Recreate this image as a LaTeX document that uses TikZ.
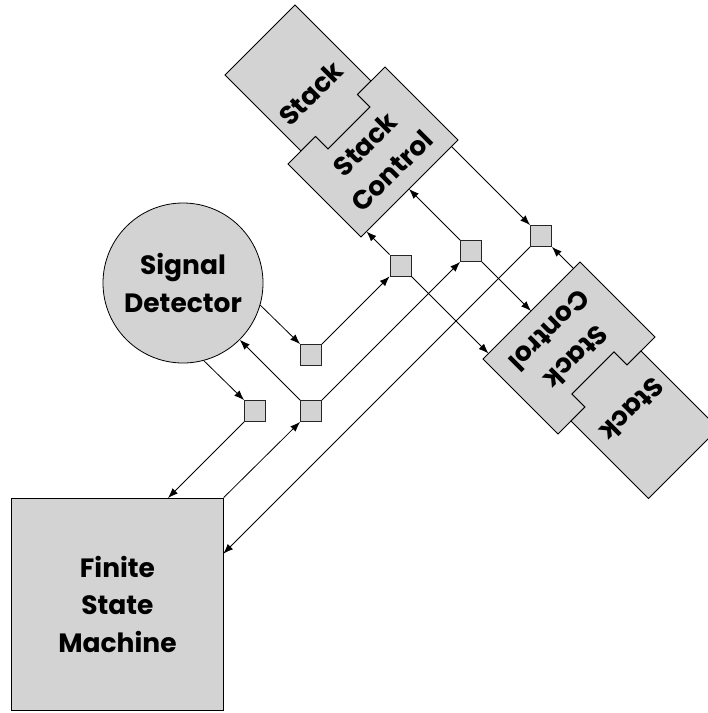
\documentclass[tikz,border=0pt]{standalone}
\usepackage{fontspec}
\setmainfont{Poppins}
\usetikzlibrary{arrows.meta}
\definecolor{boxgray}{RGB}{211,211,211}
\begin{document}
\begin{tikzpicture}[x=1pt,y=-1pt,
  line width=0.8pt,
  conn/.style={-{Latex[length=10pt,width=7.5pt]}},
  shapebox/.style={draw=black,fill=boxgray,line join=miter},
  junction/.style={draw=black!85,fill=boxgray,minimum size=21pt,inner sep=0pt},
  lbl/.style={font=\fontsize{26.5}{37.5}\selectfont\bfseries,align=center,inner sep=0pt},
]
\useasboundingbox (0,0) rectangle (708,713);
\clip (0,0) rectangle (708,713);

% ---- rotated stack blocks (coordinates along the two diagonals) ----
\begin{scope}[x={(0.5pt,-0.5pt)},y={(0.5pt,0.5pt)}]
  % upper-left group
  \draw[shapebox] (300,150) -- (300,290) -- (452,290) -- (452,263) -- (477,263)
        -- (477,179) -- (452,179) -- (452,150) -- cycle;
  \draw[shapebox] (452,124) -- (452,179) -- (477,179) -- (477,263) -- (452,263)
        -- (452,318) -- (598,318) -- (598,124) -- cycle;
  \node[lbl,rotate=45] (tstack) at (404.5,217.5) {Stack};
  \node[lbl,rotate=45] (tctrl) at (536,221) {Stack\\Control};
  % lower-right group
  \draw[shapebox] (842,124) -- (842,318) -- (992,318) -- (992,262) -- (966,262)
        -- (966,178) -- (992,178) -- (992,124) -- cycle;
  \draw[shapebox] (992,150) -- (992,178) -- (966,178) -- (966,262) -- (992,262)
        -- (992,290) -- (1147,290) -- (1147,150) -- cycle;
  \node[lbl,rotate=225] (rctrl) at (907,219) {Stack\\Control};
  \node[lbl,rotate=225] (rstack) at (1042,222) {Stack};
  % connector end points on the two Stack Control blocks
  \coordinate (tA) at (598,135);
  \coordinate (tB) at (598,220);
  \coordinate (tC) at (598,305);
  \coordinate (rA) at (842,135);
  \coordinate (rB) at (842,220);
  \coordinate (rC) at (842,305);
\end{scope}

% ---- Signal Detector ----
\node[circle,draw=black,fill=boxgray,minimum size=160pt,inner sep=0pt] (sd) at (183,283) {};
\node[lbl] (sdl) at (sd.center) {Signal\\Detector};

% ---- Finite State Machine ----
\node[draw=black,fill=boxgray,minimum width=211.5pt,minimum height=212pt,inner sep=0pt] (fsm) at (117.5,604) {};
\node[lbl] (fsml) at (fsm.center) {Finite\\State\\Machine};
\coordinate (fT) at (168,498);
\coordinate (fR) at (223.25,553.75);

% ---- junction squares ----
\node[junction] (q1) at (311,355) {};
\node[junction] (q2) at (255,411) {};
\node[junction] (q3) at (311,411) {};
\node[junction] (q4) at (400.5,265.5) {};
\node[junction] (q5) at (471,251) {};
\node[junction] (q6) at (541,236) {};

% ---- connectors ----
\draw[conn] (sd.-16) -- (q1.north west);
\draw[conn] (sd.-75) -- (q2.north west);
\draw[conn] (q3.north west) -- (sd.-45.5);
\draw[conn] (q1.north east) -- (q4.south west);
\draw[conn] (q4.north west) -- (tA);
\draw[conn] (q4.south east) -- (rA);
\draw[conn] (fsm.north east) -- (q3.south west);
\draw[conn] (q3.north east) -- (q5.south west);
\draw[conn] (q5.north west) -- (tB);
\draw[conn] (q5.south east) -- (rB);
\draw[conn] (tC) -- (q6.north west);
\draw[conn] (rC) -- (q6.south east);
\draw[conn] (q6.south west) -- (fR);
\draw[conn] (q2.south west) -- (fT);
\end{tikzpicture}
\end{document}
